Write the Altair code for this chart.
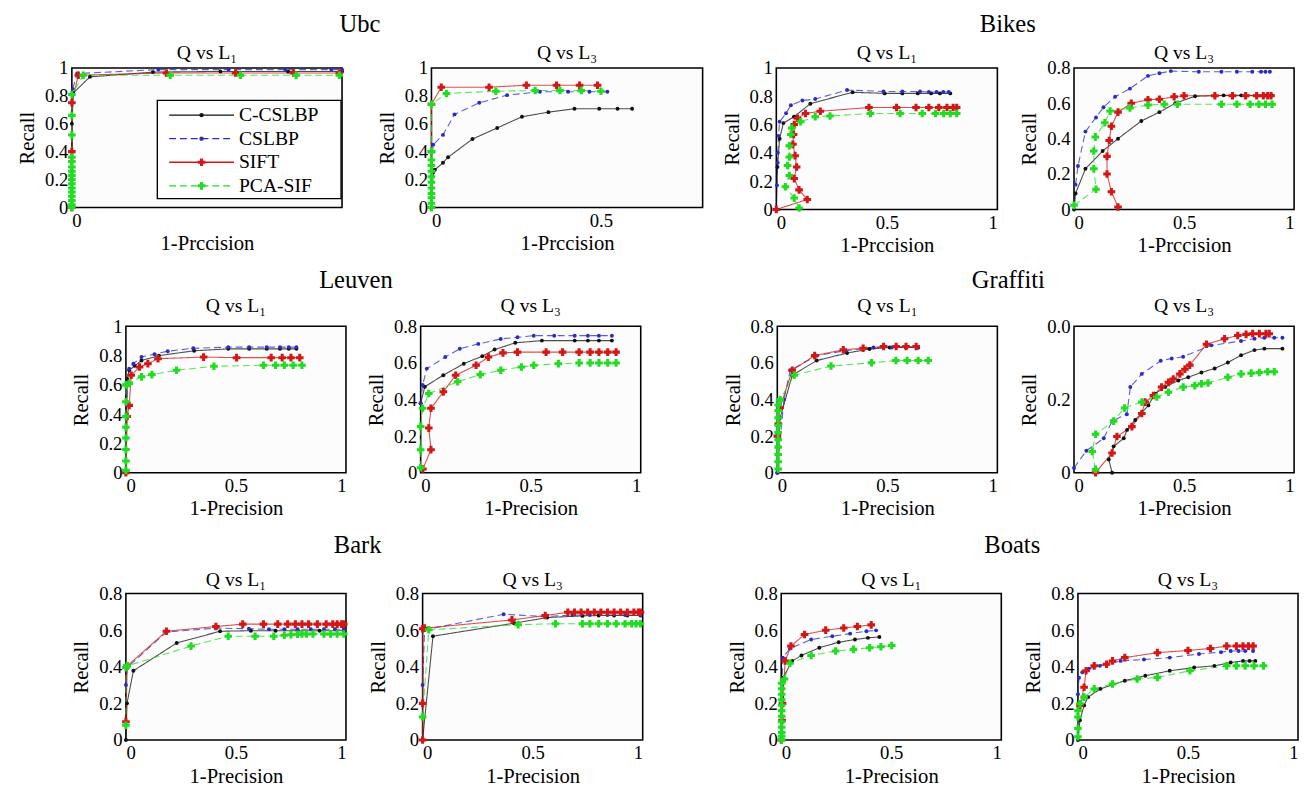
import altair as alt
import pandas as pd

SERIES = ["C-CSLBP", "CSLBP", "SIFT", "PCA-SIF"]
COLORS = ["#111111", "#2b2bc4", "#d31616", "#22dc22"]
DASHES = [[1, 0], [7, 4], [1, 0], [7, 4]]
FONT = "'Liberation Serif', 'Times New Roman', Times, 'DejaVu Serif', serif"

# ---------------- data: (x = 1-Precision, y = Recall) ----------------
UBC_L1 = {
    "C-CSLBP": ([0.0, 0.0, 0.005, 0.067, 0.3, 0.55, 0.8, 1.0],
                [0.0, 0.6, 0.82, 0.936, 0.97, 0.975, 0.975, 0.975]),
    "CSLBP": ([0.0, 0.003, 0.02, 0.32, 0.58, 0.79, 0.96, 1.0],
              [0.0, 0.85, 0.96, 0.988, 0.988, 0.988, 0.988, 0.988]),
    "SIFT": ([0.0, 0.0, 0.0, 0.024, 0.35, 0.606, 0.82, 0.99],
             [0.0, 0.4, 0.75, 0.948, 0.964, 0.964, 0.964, 0.964]),
    "PCA-SIF": ([0.0, 0.0, 0.0, 0.0, 0.0, 0.0, 0.0, 0.0, 0.0, 0.0, 0.0, 0.0, 0.0, 0.0, 0.0, 0.0,
                 0.042, 0.364, 0.624, 0.83, 0.99],
                [0.0, 0.02, 0.05, 0.08, 0.11, 0.14, 0.17, 0.2, 0.23, 0.26, 0.29, 0.33, 0.36, 0.52, 0.66, 0.81,
                 0.948, 0.948, 0.948, 0.948, 0.948]),
}
UBC_L3 = {
    "C-CSLBP": ([0.0, 0.005, 0.01, 0.034, 0.049, 0.121, 0.194, 0.267, 0.345, 0.422, 0.495, 0.549, 0.592],
                [0.0, 0.25, 0.27, 0.32, 0.36, 0.49, 0.57, 0.65, 0.683, 0.707, 0.707, 0.707, 0.707]),
    "CSLBP": ([0.0, 0.0, 0.005, 0.034, 0.068, 0.141, 0.223, 0.32, 0.403, 0.466, 0.519],
              [0.0, 0.3, 0.45, 0.52, 0.667, 0.75, 0.805, 0.829, 0.829, 0.829, 0.829]),
    "SIFT": ([0.0, 0.0, 0.0, 0.029, 0.17, 0.28, 0.369, 0.437, 0.49],
             [0.0, 0.4, 0.74, 0.862, 0.862, 0.876, 0.876, 0.876, 0.876]),
    "PCA-SIF": ([0.0, 0.0, 0.0, 0.0, 0.0, 0.0, 0.0, 0.0, 0.0, 0.0, 0.0, 0.0, 0.044, 0.19, 0.306, 0.379, 0.442, 0.5],
                [0.0, 0.03, 0.07, 0.1, 0.14, 0.18, 0.22, 0.26, 0.3, 0.34, 0.4, 0.74, 0.817, 0.833, 0.838, 0.838, 0.838, 0.833]),
}
BIKES_L1 = {
    "C-CSLBP": ([0.0, 0.005, 0.015, 0.032, 0.08, 0.154, 0.345, 0.49, 0.57, 0.64, 0.7, 0.74, 0.787],
                [0.0, 0.3, 0.5, 0.61, 0.655, 0.747, 0.828, 0.82, 0.82, 0.82, 0.82, 0.82, 0.82]),
    "CSLBP": ([0.003, 0.006, 0.007, 0.01, 0.015, 0.044, 0.066, 0.118, 0.176, 0.32, 0.485, 0.57, 0.65, 0.69, 0.725, 0.755, 0.78],
              [0.17, 0.33, 0.4, 0.52, 0.62, 0.68, 0.736, 0.77, 0.78, 0.844, 0.834, 0.834, 0.834, 0.83, 0.83, 0.83, 0.83]),
    "SIFT": ([0.0, 0.14, 0.103, 0.081, 0.092, 0.085, 0.075, 0.078, 0.081, 0.096, 0.132, 0.199, 0.419, 0.544, 0.632, 0.69, 0.735, 0.772, 0.8, 0.816],
             [0.0, 0.07, 0.138, 0.218, 0.3, 0.38, 0.46, 0.53, 0.6, 0.644, 0.678, 0.694, 0.72, 0.72, 0.72, 0.72, 0.72, 0.72, 0.72, 0.72]),
    "PCA-SIF": ([0.103, 0.081, 0.041, 0.059, 0.051, 0.059, 0.059, 0.066, 0.07, 0.11, 0.176, 0.243, 0.426, 0.56, 0.66, 0.72, 0.757, 0.787, 0.816],
                [0.01, 0.08, 0.16, 0.24, 0.31, 0.37, 0.45, 0.53, 0.575, 0.62, 0.655, 0.66, 0.678, 0.678, 0.678, 0.678, 0.678, 0.678, 0.678]),
}
BIKES_L3 = {
    "C-CSLBP": ([0.0, 0.007, 0.052, 0.13, 0.2, 0.306, 0.388, 0.46, 0.55, 0.68, 0.76, 0.83, 0.87, 0.9],
                [0.0, 0.09, 0.23, 0.33, 0.4, 0.5, 0.55, 0.6, 0.64, 0.645, 0.645, 0.645, 0.645, 0.645]),
    "CSLBP": ([0.007, 0.018, 0.052, 0.1, 0.134, 0.187, 0.254, 0.336, 0.388, 0.44, 0.567, 0.67, 0.74, 0.81, 0.85, 0.87, 0.89],
              [0.14, 0.245, 0.44, 0.52, 0.578, 0.637, 0.683, 0.755, 0.77, 0.782, 0.778, 0.778, 0.778, 0.778, 0.778, 0.778, 0.778]),
    "SIFT": ([0.2, 0.17, 0.15, 0.15, 0.16, 0.17, 0.2, 0.26, 0.336, 0.388, 0.455, 0.5, 0.64, 0.72, 0.78, 0.83, 0.86, 0.88, 0.895],
             [0.014, 0.1, 0.2, 0.3, 0.39, 0.47, 0.55, 0.6, 0.62, 0.623, 0.637, 0.643, 0.643, 0.643, 0.643, 0.643, 0.643, 0.643, 0.643]),
    "PCA-SIF": ([0.0, 0.1, 0.09, 0.09, 0.097, 0.14, 0.164, 0.254, 0.336, 0.41, 0.47, 0.67, 0.74, 0.8, 0.84, 0.87, 0.9],
                [0.023, 0.114, 0.23, 0.33, 0.41, 0.49, 0.556, 0.574, 0.59, 0.595, 0.595, 0.595, 0.595, 0.595, 0.595, 0.595, 0.595]),
}
LEUVEN_L1 = {
    "C-CSLBP": ([0.0, 0.006, 0.015, 0.04, 0.071, 0.15, 0.31, 0.465, 0.56, 0.64, 0.7, 0.74, 0.775],
                [0.0, 0.64, 0.7, 0.73, 0.767, 0.8, 0.833, 0.846, 0.846, 0.846, 0.846, 0.846, 0.846]),
    "CSLBP": ([0.0, 0.006, 0.015, 0.034, 0.071, 0.13, 0.19, 0.306, 0.465, 0.56, 0.64, 0.7, 0.74, 0.775],
              [0.0, 0.62, 0.71, 0.745, 0.79, 0.81, 0.83, 0.85, 0.858, 0.858, 0.858, 0.858, 0.858, 0.858]),
    "SIFT": ([0.0, 0.006, 0.015, 0.024, 0.062, 0.1, 0.146, 0.353, 0.503, 0.66, 0.71, 0.75, 0.79],
             [0.0, 0.384, 0.46, 0.666, 0.722, 0.745, 0.779, 0.79, 0.786, 0.786, 0.786, 0.786, 0.786]),
    "PCA-SIF": ([0.0, 0.0, 0.0, 0.0, 0.0, 0.0, 0.0, 0.0, 0.015, 0.071, 0.118, 0.23, 0.4, 0.625, 0.68, 0.72, 0.76, 0.8],
                [0.016, 0.08, 0.158, 0.237, 0.31, 0.384, 0.485, 0.6, 0.61, 0.655, 0.67, 0.7, 0.727, 0.734, 0.734, 0.734, 0.734, 0.734]),
}
LEUVEN_L3 = {
    "C-CSLBP": ([0.0, 0.019, 0.103, 0.196, 0.28, 0.336, 0.43, 0.551, 0.7, 0.76, 0.81, 0.869],
                [0.38, 0.47, 0.533, 0.596, 0.637, 0.673, 0.71, 0.722, 0.722, 0.722, 0.722, 0.722]),
    "CSLBP": ([0.0, 0.009, 0.028, 0.112, 0.178, 0.262, 0.364, 0.44, 0.514, 0.607, 0.7, 0.76, 0.81, 0.869],
              [0.38, 0.479, 0.569, 0.632, 0.677, 0.704, 0.731, 0.74, 0.749, 0.749, 0.749, 0.749, 0.749, 0.749]),
    "SIFT": ([0.01, 0.047, 0.037, 0.047, 0.103, 0.159, 0.252, 0.308, 0.374, 0.44, 0.57, 0.645, 0.72, 0.77, 0.81, 0.85, 0.888],
             [0.02, 0.126, 0.244, 0.352, 0.442, 0.533, 0.587, 0.632, 0.655, 0.659, 0.659, 0.659, 0.659, 0.659, 0.659, 0.659, 0.659]),
    "PCA-SIF": ([0.0, 0.0, 0.0, 0.009, 0.037, 0.168, 0.271, 0.364, 0.458, 0.514, 0.626, 0.72, 0.77, 0.81, 0.85, 0.888],
                [0.027, 0.126, 0.253, 0.352, 0.433, 0.497, 0.536, 0.56, 0.578, 0.587, 0.596, 0.6, 0.6, 0.6, 0.6, 0.6]),
}
GRAFFITI_L1 = {
    "C-CSLBP": ([0.0, 0.013, 0.068, 0.179, 0.317, 0.419, 0.511, 0.585, 0.64],
                [0.0, 0.3, 0.533, 0.613, 0.654, 0.676, 0.684, 0.684, 0.684]),
    "CSLBP": ([0.0, 0.03, 0.059, 0.18, 0.308, 0.437, 0.52, 0.585, 0.64],
              [0.0, 0.4, 0.56, 0.64, 0.667, 0.684, 0.684, 0.684, 0.684]),
    "SIFT": ([0.0, 0.004, 0.013, 0.068, 0.17, 0.3, 0.39, 0.483, 0.54, 0.585, 0.631],
             [0.2, 0.267, 0.356, 0.56, 0.64, 0.672, 0.68, 0.69, 0.69, 0.69, 0.69]),
    "PCA-SIF": ([0.004, 0.004, 0.004, 0.004, 0.004, 0.004, 0.004, 0.004, 0.004, 0.004, 0.013, 0.077, 0.244, 0.428, 0.539, 0.59, 0.64, 0.686],
                [0.02, 0.06, 0.1, 0.14, 0.18, 0.22, 0.26, 0.3, 0.34, 0.37, 0.4, 0.533, 0.583, 0.601, 0.613, 0.613, 0.613, 0.613]),
}
GRAFFITI_L3 = {
    "C-CSLBP": ([0.173, 0.158, 0.18, 0.226, 0.241, 0.278, 0.338, 0.368, 0.414, 0.474, 0.519, 0.579, 0.639, 0.699, 0.759, 0.82, 0.865, 0.947],
                [0.0, 0.036, 0.072, 0.094, 0.117, 0.144, 0.184, 0.216, 0.234, 0.252, 0.261, 0.274, 0.285, 0.301, 0.321, 0.335, 0.339, 0.339]),
    "CSLBP": ([0.0, 0.056, 0.135, 0.173, 0.24, 0.256, 0.308, 0.394, 0.444, 0.496, 0.624, 0.759, 0.82, 0.865, 0.91, 0.947],
              [0.013, 0.06, 0.094, 0.141, 0.16, 0.234, 0.27, 0.306, 0.312, 0.317, 0.348, 0.36, 0.366, 0.369, 0.369, 0.369]),
    "SIFT": ([0.098, 0.173, 0.195, 0.263, 0.308, 0.323, 0.361, 0.398, 0.429, 0.451, 0.481, 0.504, 0.526, 0.602, 0.684, 0.744, 0.782, 0.812, 0.842, 0.872, 0.887],
             [0.0, 0.054, 0.099, 0.126, 0.162, 0.193, 0.211, 0.234, 0.247, 0.256, 0.27, 0.283, 0.294, 0.351, 0.366, 0.375, 0.378, 0.38, 0.38, 0.38, 0.38]),
    "PCA-SIF": ([0.098, 0.083, 0.098, 0.18, 0.23, 0.308, 0.376, 0.429, 0.496, 0.549, 0.579, 0.609, 0.699, 0.759, 0.805, 0.842, 0.88, 0.91],
                [0.009, 0.058, 0.105, 0.141, 0.177, 0.193, 0.207, 0.22, 0.234, 0.238, 0.243, 0.245, 0.261, 0.27, 0.272, 0.274, 0.276, 0.276]),
}
BARK_L1 = {
    "C-CSLBP": ([0.0, 0.005, 0.034, 0.231, 0.428, 0.568, 0.68, 0.78, 0.88, 0.99],
                [0.0, 0.2, 0.378, 0.53, 0.594, 0.597, 0.597, 0.597, 0.597, 0.597]),
    "CSLBP": ([0.0, 0.006, 0.184, 0.409, 0.559, 0.65, 0.72, 0.78, 0.84, 0.9, 0.95, 0.99],
              [0.3, 0.396, 0.59, 0.611, 0.608, 0.605, 0.605, 0.605, 0.605, 0.605, 0.605, 0.605]),
    "SIFT": ([0.0, 0.006, 0.184, 0.409, 0.531, 0.625, 0.69, 0.735, 0.77, 0.8, 0.83, 0.87, 0.91, 0.94, 0.96, 0.98, 0.99],
             [0.1, 0.405, 0.594, 0.62, 0.633, 0.633, 0.633, 0.633, 0.633, 0.633, 0.633, 0.633, 0.633, 0.633, 0.633, 0.633, 0.633]),
    "PCA-SIF": ([0.0, 0.0, 0.006, 0.296, 0.465, 0.587, 0.672, 0.72, 0.75, 0.78, 0.8, 0.82, 0.85, 0.9, 0.93, 0.96, 0.99],
                [0.08, 0.396, 0.405, 0.513, 0.567, 0.567, 0.567, 0.572, 0.575, 0.578, 0.579, 0.579, 0.579, 0.579, 0.579, 0.579, 0.579]),
}
BARK_L3 = {
    "C-CSLBP": ([0.0, 0.047, 0.415, 0.566, 0.726, 0.8, 0.87, 0.93, 0.99],
                [0.0, 0.567, 0.638, 0.669, 0.678, 0.68, 0.68, 0.68, 0.68]),
    "CSLBP": ([0.0, 0.009, 0.368, 0.557, 0.68, 0.76, 0.84, 0.92, 0.99],
              [0.3, 0.602, 0.687, 0.674, 0.683, 0.683, 0.683, 0.683, 0.683]),
    "SIFT": ([0.0, 0.0, 0.0, 0.009, 0.406, 0.557, 0.66, 0.69, 0.72, 0.75, 0.78, 0.81, 0.84, 0.87, 0.9, 0.93, 0.96, 0.98, 0.99],
             [0.0, 0.2, 0.608, 0.611, 0.656, 0.68, 0.698, 0.698, 0.698, 0.698, 0.698, 0.698, 0.698, 0.698, 0.698, 0.698, 0.698, 0.698, 0.698]),
    "PCA-SIF": ([0.0, 0.028, 0.434, 0.604, 0.726, 0.76, 0.8, 0.84, 0.88, 0.92, 0.95, 0.97, 0.99],
                [0.126, 0.602, 0.63, 0.635, 0.635, 0.635, 0.635, 0.635, 0.635, 0.635, 0.635, 0.635, 0.635]),
}
BOATS_L1 = {
    "C-CSLBP": ([0.0, 0.004, 0.008, 0.05, 0.092, 0.173, 0.261, 0.335, 0.394, 0.446],
                [0.0, 0.234, 0.34, 0.432, 0.462, 0.504, 0.534, 0.549, 0.558, 0.563]),
    "CSLBP": ([0.0, 0.004, 0.007, 0.04, 0.136, 0.232, 0.313, 0.387, 0.431],
              [0.0, 0.3, 0.45, 0.5, 0.549, 0.567, 0.581, 0.594, 0.599]),
    "SIFT": ([0.0, 0.004, 0.006, 0.018, 0.044, 0.106, 0.202, 0.284, 0.346, 0.409],
             [0.0, 0.108, 0.2, 0.432, 0.513, 0.576, 0.6, 0.612, 0.62, 0.629]),
    "PCA-SIF": ([0.002, 0.002, 0.002, 0.002, 0.002, 0.002, 0.002, 0.002, 0.002, 0.002, 0.002, 0.002, 0.015, 0.04, 0.136, 0.247, 0.328, 0.402, 0.453, 0.502],
                [0.0, 0.02, 0.04, 0.07, 0.1, 0.13, 0.16, 0.19, 0.22, 0.25, 0.28, 0.31, 0.333, 0.419, 0.462, 0.486, 0.495, 0.504, 0.509, 0.516]),
}
BOATS_L3 = {
    "C-CSLBP": ([0.0, 0.009, 0.028, 0.046, 0.102, 0.213, 0.306, 0.417, 0.528, 0.62, 0.694, 0.75, 0.78, 0.806],
                [0.0, 0.108, 0.189, 0.234, 0.279, 0.324, 0.351, 0.378, 0.396, 0.405, 0.423, 0.432, 0.432, 0.432]),
    "CSLBP": ([0.0, 0.005, 0.02, 0.05, 0.1, 0.194, 0.3, 0.417, 0.55, 0.65, 0.694, 0.73, 0.76, 0.796],
              [0.25, 0.34, 0.37, 0.39, 0.405, 0.432, 0.44, 0.45, 0.47, 0.48, 0.486, 0.486, 0.486, 0.486]),
    "SIFT": ([0.009, 0.028, 0.037, 0.074, 0.13, 0.157, 0.213, 0.361, 0.5, 0.602, 0.676, 0.72, 0.75, 0.775, 0.796],
             [0.189, 0.288, 0.378, 0.405, 0.414, 0.432, 0.45, 0.477, 0.489, 0.5, 0.513, 0.513, 0.513, 0.513, 0.513]),
    "PCA-SIF": ([0.0, 0.0, 0.0, 0.0, 0.009, 0.028, 0.074, 0.157, 0.269, 0.361, 0.509, 0.676, 0.72, 0.76, 0.8, 0.843],
                [0.018, 0.063, 0.126, 0.16, 0.198, 0.234, 0.279, 0.306, 0.333, 0.342, 0.378, 0.405, 0.405, 0.405, 0.405, 0.405]),
}

Y10 = [0, 0.2, 0.4, 0.6, 0.8, 1]
Y08 = [0, 0.2, 0.4, 0.6, 0.8]
X01 = [0, 0.5, 1]

COLOR = alt.Color("s:N", scale=alt.Scale(domain=SERIES, range=COLORS), legend=None)
DASH = alt.StrokeDash("s:N", scale=alt.Scale(domain=SERIES, range=DASHES), legend=None)
DOTS = alt.FieldOneOfPredicate(field="s", oneOf=SERIES[:2])
PLUS = alt.FieldOneOfPredicate(field="s", oneOf=SERIES[2:])
AXIS_STYLE = dict(labelFont=FONT, titleFont=FONT, labelFontSize=19, titleFontSize=21,
                  titleFontWeight="normal", labelColor="black", titleColor="black",
                  grid=False, ticks=False, domain=False, labelPadding=4)


def legend_layer():
    lb = alt.Chart(pd.DataFrame({"s": SERIES}))
    ly = alt.Y("s:N", scale=alt.Scale(type="point", domain=SERIES, range=[48, 120], padding=0), axis=None)
    box = alt.Chart(pd.DataFrame({"k": [0]})).mark_rect(
        fill="white", stroke="black", strokeWidth=1.4
    ).encode(x=alt.value(87), x2=alt.value(274), y=alt.value(33), y2=alt.value(133))
    rule = lb.mark_rule(strokeWidth=1.4).encode(
        x=alt.value(99), x2=alt.value(165), y=ly, color=COLOR, strokeDash=DASH)
    ldots = lb.transform_filter(DOTS).mark_circle(size=20, opacity=1).encode(
        x=alt.value(132), y=ly, color=COLOR)
    lplus = lb.transform_filter(PLUS).mark_point(shape="cross", filled=True, size=60, opacity=1).encode(
        x=alt.value(132), y=ly, color=COLOR)
    ltext = lb.mark_text(align="left", baseline="middle", font=FONT, fontSize=20, color="black").encode(
        x=alt.value(170), y=ly, text="s:N")
    return alt.layer(box, rule, ldots, lplus, ltext)


def panel(data, sub, w, h, xdom, xvals, ydom, yvals, xtitle, sub_off=0, ylabels=None, legend=False):
    rows = []
    for s in SERIES:
        xs, ys = data[s]
        for i, (a, b) in enumerate(zip(xs, ys)):
            rows.append({"s": s, "x": a, "y": b, "i": i})
    base = alt.Chart(pd.DataFrame(rows))
    yaxis = dict(values=yvals, title="Recall", format="~g", titlePadding=7, **AXIS_STYLE)
    if ylabels:
        yaxis["labelExpr"] = ylabels
    X = alt.X("x:Q", scale=alt.Scale(domain=xdom, nice=False, zero=False),
              axis=alt.Axis(values=xvals, title=xtitle, format="~g", titlePadding=3, **AXIS_STYLE))
    Y = alt.Y("y:Q", scale=alt.Scale(domain=ydom, nice=False, zero=False), axis=alt.Axis(**yaxis))
    line = base.mark_line(strokeWidth=1.1, opacity=0.75).encode(
        x=X, y=Y, color=COLOR, strokeDash=DASH, order="i:Q")
    dots = base.transform_filter(DOTS).mark_circle(size=16, opacity=1).encode(x=X, y=Y, color=COLOR)
    plus = base.transform_filter(PLUS).mark_point(shape="cross", filled=True, size=60, opacity=1).encode(
        x=X, y=Y, color=COLOR)
    ch = alt.layer(line, dots, plus)
    if legend:
        ch = alt.layer(ch, legend_layer()).resolve_scale(x="independent", y="independent")
    return ch.properties(width=w, height=h,
                         title=alt.TitleParams(sub, anchor="middle", frame="group", font=FONT,
                                               fontSize=20, fontWeight="normal", color="black",
                                               offset=sub_off))


def spacer(w):
    return alt.Chart(pd.DataFrame({"k": [0]})).mark_point(opacity=0, size=1).encode(
        x=alt.value(w / 2), y=alt.value(2)
    ).properties(width=w, height=4, view=alt.ViewBackground(strokeOpacity=0, fill="white"))


def group(a, b, name, spacing, off):
    return alt.hconcat(a, b, spacing=spacing).properties(
        title=alt.TitleParams(name, anchor="middle", font=FONT, fontSize=25, fontWeight="normal",
                              color="black", offset=off))


L1 = "Q vs L\u2081"
L3 = "Q vs L\u2083"
PR1 = "1-Prccision"
PR = "1-Precision"
W2, H2 = 224, 149

ubc = group(
    panel(UBC_L1, L1, 275, 142, [0, 1], [0], [0, 1], Y10, PR1, sub_off=-4, legend=True),
    panel(UBC_L3, L3, 276, 142, [0, 0.8], [0, 0.5], [0, 1], Y10, PR1, sub_off=-4),
    "Ubc", 31, 6)
bikes = group(
    panel(BIKES_L1, L1, 225, 144, [0, 1], X01, [0, 1], Y10, PR1, sub_off=-4),
    panel(BIKES_L3, L3, 224, 144, [0, 1], X01, [0, 0.8], Y08, PR1, sub_off=-4),
    "Bikes", 20, 6)
leuven = group(
    panel(LEUVEN_L1, L1, W2, H2, [0, 1], X01, [0, 1], Y10, PR, sub_off=2),
    panel(LEUVEN_L3, L3, W2, H2, [0, 1], X01, [0, 0.8], Y08, PR, sub_off=2),
    "Leuven", 18, 2)
graffiti = group(
    panel(GRAFFITI_L1, L1, W2, H2, [0, 1], X01, [0, 0.8], Y08, PR, sub_off=2),
    panel(GRAFFITI_L3, L3, W2, H2, [0, 1], X01, [0, 0.4], [0, 0.2, 0.4], PR, sub_off=2,
          ylabels="datum.value == 0 ? '0' : (datum.value < 0.3 ? '0.2' : '0.0')"),
    "Graffiti", 20, 2)
bark = group(
    panel(BARK_L1, L1, W2, H2, [0, 1], X01, [0, 0.8], Y08, PR, sub_off=-5),
    panel(BARK_L3, L3, W2, H2, [0, 1], X01, [0, 0.8], Y08, PR, sub_off=-5),
    "Bark", 18, 11)
boats = group(
    panel(BOATS_L1, L1, W2, H2, [0, 1], X01, [0, 0.8], Y08, PR, sub_off=-5),
    panel(BOATS_L3, L3, W2, H2, [0, 1], X01, [0, 0.8], Y08, PR, sub_off=-5),
    "Boats", 20, 11)

row1 = alt.hconcat(spacer(8), alt.hconcat(ubc, bikes, spacing=17), spacing=0)
row2 = alt.hconcat(spacer(63), alt.hconcat(leuven, graffiti, spacing=81), spacing=0)
row3 = alt.hconcat(spacer(63), alt.hconcat(bark, boats, spacing=81), spacing=0)

chart = alt.vconcat(
    alt.vconcat(row1, row2, spacing=12), row3, spacing=14
).properties(
    padding={"left": 0, "top": -3, "right": 0, "bottom": 0}, background="white"
).configure_view(
    stroke="black", strokeWidth=1.6, fill="#fcfcfc"
).configure_axis(**AXIS_STYLE).configure_title(
    font=FONT, fontWeight="normal", color="black"
).configure_concat(spacing=0)

chart.save("out.html", embed_options={"renderer": "svg", "actions": False})
